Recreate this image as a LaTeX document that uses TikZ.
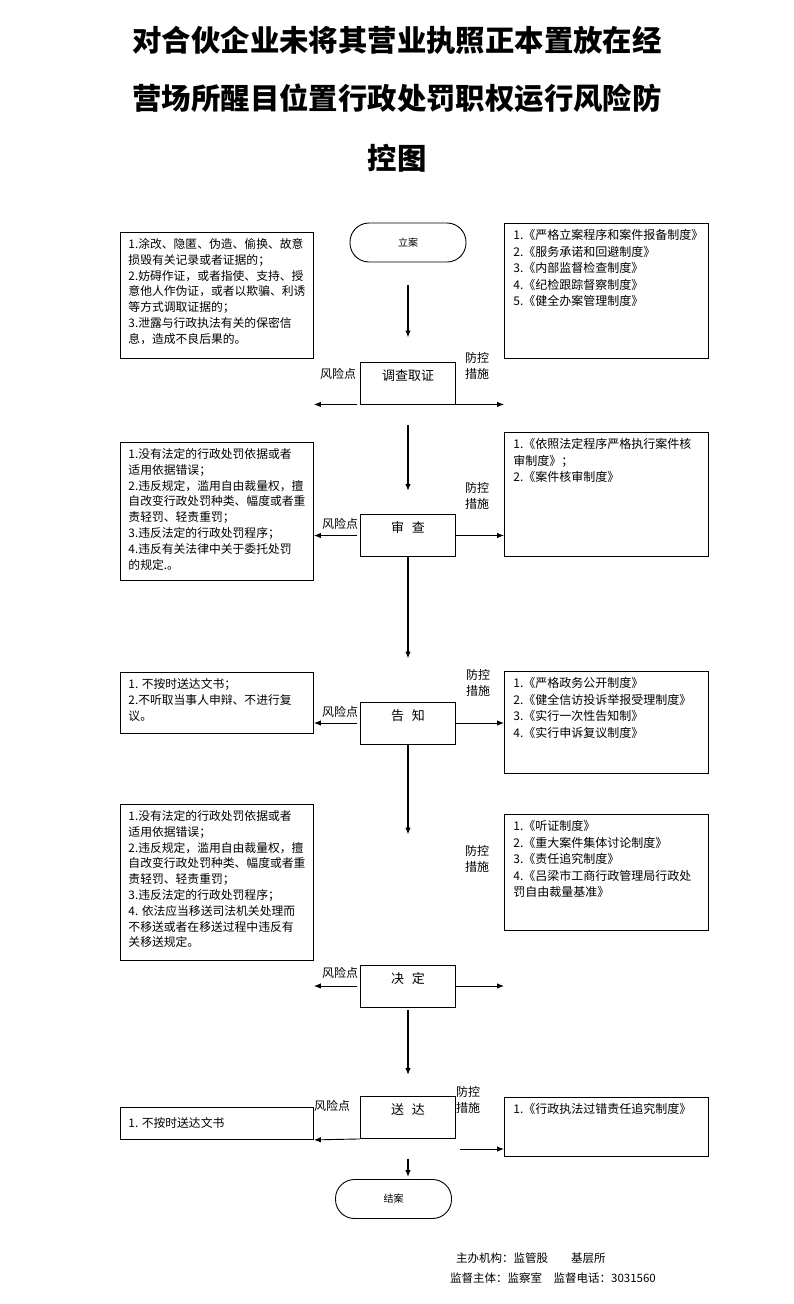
\documentclass[tikz,border=0pt]{standalone}
\usepackage{fontspec}
\setmainfont{Noto Sans CJK SC}
\usetikzlibrary{arrows.meta}

\begin{document}
\begin{tikzpicture}[x=1pt, y=-1pt, >={Latex[length=7pt,width=5.5pt]}]
    \useasboundingbox (0,0) rectangle (793,1304);
    \begin{scope}
        \tikzstyle{every node}=[font=\fontsize{29.4}{30}\selectfont\bfseries]
        \node (t1) at (397,40) {对合伙企业未将其营业执照正本置放在经};
        \node (t2) at (397,98) {营场所醒目位置行政处罚职权运行风险防};
        \node (t3) at (397,158) {控图};
    \end{scope}
    \begin{scope}
        \tikzstyle{every node}=[draw, line width=0.9pt, rounded corners=19pt, minimum width=116pt, minimum height=39pt, font=\fontsize{10}{10}\selectfont]
        \node (s1) at (408,242.5) {立案};
        \node (s7) at (393.5,1199) {结案};
    \end{scope}
    \begin{scope}
        \tikzstyle{every node}=[draw, line width=0.9pt, minimum width=95pt, minimum height=42pt, inner sep=0pt, text height=10pt, text depth=16pt, font=\fontsize{13}{13}\selectfont]
        \node (s2) at (408,383) {调查取证};
        \node (s3) at (408,535.5) {审\hspace{.6em}查};
        \node (s4) at (408,723) {告\hspace{.6em}知};
        \node (s5) at (408,986) {决\hspace{.6em}定};
        \node (s6) at (408,1117.5) {送\hspace{.6em}达};
    \end{scope}
    \begin{scope}
        \tikzstyle{every node}=[draw, line width=0.9pt, anchor=north west, inner xsep=8pt, inner ysep=6pt, font=\fontsize{11.8}{15.8}\selectfont]
        \node (r1) at (120,232) {\parbox[c][114pt][t]{177pt}{1.涂改、隐匿、伪造、偷换、故意\\损毁有关记录或者证据的；\\2.妨碍作证，或者指使、支持、授\\意他人作伪证，或者以欺骗、利诱\\等方式调取证据的；\\3.泄露与行政执法有关的保密信\\息，造成不良后果的。}};
        \node (r2) at (120,442) {\parbox[c][126pt][t]{177pt}{1.没有法定的行政处罚依据或者\\适用依据错误；\\2.违反规定，滥用自由裁量权，擅\\自改变行政处罚种类、幅度或者重\\责轻罚、轻责重罚；\\3.违反法定的行政处罚程序；\\4.违反有关法律中关于委托处罚\\的规定.。}};
        \node (r3) at (120,672) {\parbox[c][49pt][t]{177pt}{1. 不按时送达文书；\\2.不听取当事人申辩、不进行复\\议。}};
        \node (r4) at (120,804) {\parbox[c][144pt][t]{177pt}{1.没有法定的行政处罚依据或者\\适用依据错误；\\2.违反规定，滥用自由裁量权，擅\\自改变行政处罚种类、幅度或者重\\责轻罚、轻责重罚；\\3.违反法定的行政处罚程序；\\4. 依法应当移送司法机关处理而\\不移送或者在移送过程中违反有\\关移送规定。}};
        \node (r5) at (120,1107) {\parbox[c][20pt][c]{177pt}{1. 不按时送达文书}};
    \end{scope}
    \begin{scope}
        \tikzstyle{every node}=[draw, line width=0.9pt, anchor=north west, inner xsep=9pt, inner ysep=6pt, font=\fontsize{12}{16.5}\selectfont]
        \node (m1) at (504,223) {\parbox[c][123pt][t]{186pt}{1.《严格立案程序和案件报备制度》\\2.《服务承诺和回避制度》\\3.《内部监督检查制度》\\4.《纪检跟踪督察制度》\\5.《健全办案管理制度》}};
        \node (m2) at (504,432) {\parbox[c][112pt][t]{186pt}{1.《依照法定程序严格执行案件核\\审制度》；\\2.《案件核审制度》}};
        \node (m3) at (504,671) {\parbox[c][90pt][t]{186pt}{1.《严格政务公开制度》\\2.《健全信访投诉举报受理制度》\\3.《实行一次性告知制》\\4.《实行申诉复议制度》}};
        \node (m4) at (504,814) {\parbox[c][104pt][t]{186pt}{1.《听证制度》\\2.《重大案件集体讨论制度》\\3.《责任追究制度》\\4.《吕梁市工商行政管理局行政处\\罚自由裁量基准》}};
        \node (m5) at (504,1097) {\parbox[c][47pt][t]{186pt}{1.《行政执法过错责任追究制度》}};
    \end{scope}
    \begin{scope}
        \tikzstyle{every node}=[inner sep=0pt, align=center, font=\fontsize{12}{16.5}\selectfont]
        \node (k2) at (338,374) {风险点};
        \node (c2) at (477,366) {防控\\措施};
        \node (k3) at (340,524) {风险点};
        \node (c3) at (477,496) {防控\\措施};
        \node (k4) at (340,712) {风险点};
        \node (c4) at (478,683) {防控\\措施};
        \node (k5) at (340,973) {风险点};
        \node (c5) at (477,859) {防控\\措施};
        \node (k6) at (332,1106) {风险点};
        \node (c6) at (468,1100) {防控\\措施};
    \end{scope}
    \begin{scope}
        \tikzstyle{every node}=[inner sep=0pt, anchor=west, font=\fontsize{11.5}{12}\selectfont]
        \node (f1) at (456,1258) {主办机构：监管股\hspace{2em}基层所};
        \node (f2) at (450,1278) {监督主体：监察室\hspace{1em}监督电话：3031560};
    \end{scope}
    \coordinate (a6) at (460,1149);
    \begin{scope}
        \tikzstyle{every edge}=[draw, ->, line width=1.6pt]
        \path
        (s1) edge[shorten <=23pt, shorten >=24pt] (s2)
        (s2) edge[shorten <=21pt, shorten >=23pt] (s3)
        (s3) edge[shorten >=43pt] (s4)
        (s4) edge[shorten >=130pt] (s5)
        (s5) edge[shorten <=3pt, shorten >=21pt] (s6)
        (s6.south) edge[shorten <=20pt, shorten >=2pt] (s6.south |- s7.north);
    \end{scope}
    \begin{scope}
        \tikzstyle{every edge}=[draw, ->, line width=0.9pt]
        \path
        (s2.south west) edge[shorten <=3pt] (s2.south west -| r1.south east)
        (s2.south east) edge (s2.south east -| m1.south west)
        (s3.west) edge[shorten <=3pt] (s3.west -| r2.east)
        (s3.east) edge (s3.east -| m2.west)
        (s4.west) edge[shorten <=3pt] (s4.west -| r3.east)
        (s4.east) edge (s4.east -| m3.west)
        (s5.west) edge[shorten <=3pt] (s5.west -| r4.east)
        (s5.east) edge (s5.east -| m4.west)
        (s6.south west) edge (r5.south east)
        (a6) edge (a6 -| m5.west);
    \end{scope}
\end{tikzpicture}
\end{document}
